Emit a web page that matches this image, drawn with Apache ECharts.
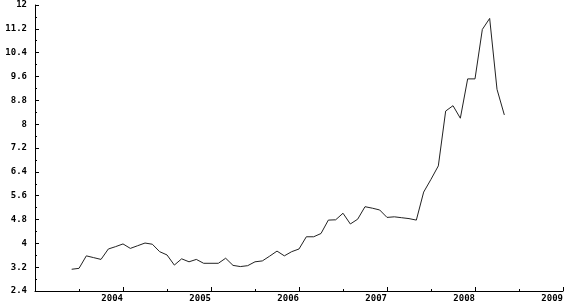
<!DOCTYPE html>
<html>
<head>
<meta charset="utf-8">
<script src="https://cdn.jsdelivr.net/npm/echarts@6/dist/echarts.min.js"></script>
<style>
html,body{margin:0;padding:0;background:#fff;}
#chart{width:574px;height:303px;}
</style>
</head>
<body>
<div id="chart"></div>
<script>
const months = [
 '2003-06','2003-07','2003-08','2003-09','2003-10','2003-11','2003-12',
 '2004-01','2004-02','2004-03','2004-04','2004-05','2004-06','2004-07','2004-08','2004-09','2004-10','2004-11','2004-12',
 '2005-01','2005-02','2005-03','2005-04','2005-05','2005-06','2005-07','2005-08','2005-09','2005-10','2005-11','2005-12',
 '2006-01','2006-02','2006-03','2006-04','2006-05','2006-06','2006-07','2006-08','2006-09','2006-10','2006-11','2006-12',
 '2007-01','2007-02','2007-03','2007-04','2007-05','2007-06','2007-07','2007-08','2007-09','2007-10','2007-11','2007-12',
 '2008-01','2008-02','2008-03','2008-04','2008-05'
];
const values = [
 3.13,3.16,3.58,3.52,3.46,3.81,3.89,
 3.98,3.83,3.92,4.01,3.97,3.72,3.61,3.27,3.48,3.38,3.46,3.33,
 3.33,3.33,3.50,3.26,3.22,3.25,3.38,3.41,3.57,3.74,3.58,3.72,
 3.81,4.22,4.22,4.33,4.78,4.79,5.01,4.65,4.81,5.23,5.18,5.12,
 4.87,4.89,4.86,4.83,4.78,5.72,6.15,6.60,8.44,8.62,8.20,9.52,
 9.52,11.18,11.55,9.17,8.31
];
const yTicks = { min: 2.4, max: 12, step: 0.8 };
const xYears = { min: 2003, max: 2009, step: 1 };

function toYear(s){
  const p = s.split('-');
  return Number(p[0]) + (Number(p[1]) - 1) / 12;
}
const seriesData = months.map((m, i) => [toYear(m), values[i]]);

const labelFont = { fontFamily: 'DejaVu Sans Mono', fontWeight: 'bold', fontSize: 9, color: '#000' };

const chart = echarts.init(document.getElementById('chart'), null, { renderer: 'canvas' });
chart.setOption({
  animation: false,
  backgroundColor: '#fff',
  grid: { left: 35, right: 11, top: 5, bottom: 12, containLabel: false },
  xAxis: {
    type: 'value',
    min: xYears.min, max: xYears.max, interval: xYears.step,
    axisLine: { show: true, lineStyle: { color: '#000', width: 1 } },
    axisTick: { show: true, inside: true, length: 4, lineStyle: { color: '#000' } },
    minorTick: { show: true, splitNumber: 2, length: 2, lineStyle: { color: '#000' } },
    splitLine: { show: false },
    axisLabel: Object.assign({ showMinLabel: false, margin: 3, align: 'right', formatter: v => String(v) }, labelFont)
  },
  yAxis: {
    type: 'value',
    min: yTicks.min, max: yTicks.max, interval: yTicks.step,
    axisLine: { show: true, lineStyle: { color: '#000', width: 1 } },
    axisTick: { show: true, inside: true, length: 4, lineStyle: { color: '#000' } },
    minorTick: { show: true, splitNumber: 2, length: 2, lineStyle: { color: '#000' } },
    splitLine: { show: false },
    axisLabel: Object.assign({ margin: 8 }, labelFont)
  },
  series: [{
    type: 'line',
    data: seriesData,
    showSymbol: false,
    symbol: 'none',
    lineStyle: { color: '#222', width: 1 },
    itemStyle: { color: '#222' }
  }]
});
</script>
</body>
</html>
